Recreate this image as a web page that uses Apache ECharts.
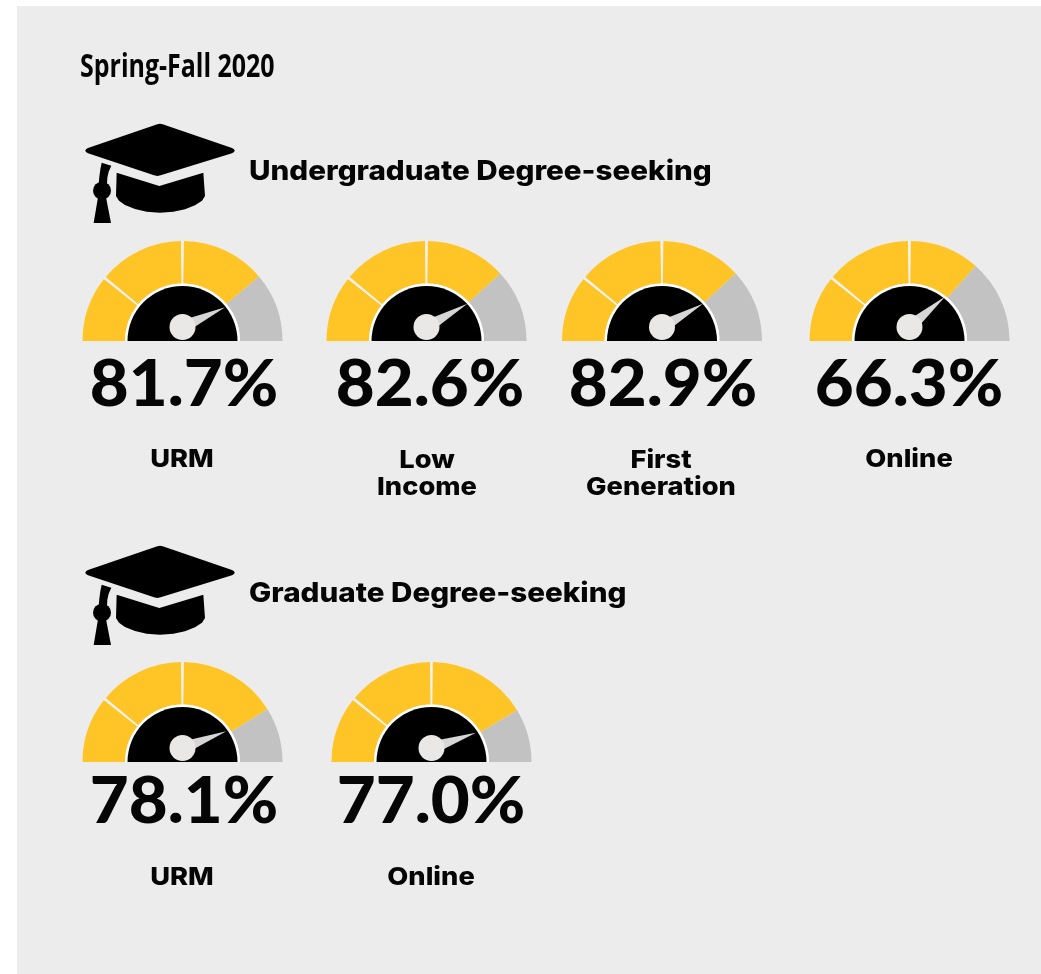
<!DOCTYPE html>
<html>
<head>
<meta charset="utf-8">
<style>html,body{margin:0;padding:0;background:#fff}#c{width:1041px;height:974px}</style>
<script src="https://cdn.jsdelivr.net/npm/echarts@6/dist/echarts.min.js"></script>
</head>
<body>
<div id="c"></div>
<script>
const chartTitle = 'Spring-Fall 2020';
const groupTitles = ['Undergraduate Degree-seeking', 'Graduate Degree-seeking'];
const gaugeValueLabels = ['81.7%', '82.6%', '82.9%', '66.3%', '78.1%', '77.0%'];
const gaugeNames = [['URM'], ['Low', 'Income'], ['First', 'Generation'], ['Online'], ['URM'], ['Online']];
// share of the half-dial drawn yellow
const gaugeFill = [77.7, 76.4, 76.4, 73.0, 82.3, 82.7];
// needle direction, degrees clockwise from pointing left
const needleAngle = [155, 150.5, 150.5, 139.5, 159, 161];
// yellow band boundaries on the dial
const bandStops = [21.7, 50];

const dialX = [182.5, 426.5, 662, 909.5, 182.5, 431.5];
const dialY = [341, 341, 341, 341, 762, 762];
const valueX = [184, 430, 663, 909, 184, 431];
const valueY = [385, 385, 385, 385, 802, 802];
const nameX = [182, 427, 661, 909, 182, 431];
const nameY = [459, 460, 460, 459, 877, 877];

const YELLOW = '#ffc425', GREY = '#c2c2c2', GAP = '#f4f2ea', HEAVY = 'Inter';
const series = [];
const half = {type: 'pie', startAngle: 180, endAngle: 0, clockwise: true, silent: true, animation: false,
  label: {show: false}, labelLine: {show: false}, emphasis: {disabled: true}};

gaugeFill.forEach((fill, i) => {
  const center = [dialX[i], dialY[i]];
  const g = 0.9;
  series.push(Object.assign({}, half, {center, radius: [57.5, 100], z: 2, data: [
    {value: bandStops[0] - g / 2, itemStyle: {color: YELLOW}},
    {value: g, itemStyle: {color: GAP}},
    {value: bandStops[1] - bandStops[0] - g, itemStyle: {color: YELLOW}},
    {value: g, itemStyle: {color: GAP}},
    {value: fill - bandStops[1] - g / 2, itemStyle: {color: YELLOW}},
    {value: 100 - fill, itemStyle: {color: GREY}}
  ]}));
  series.push(Object.assign({}, half, {center, radius: [0, 57.5], z: 3,
    data: [{value: 1, itemStyle: {color: '#ffffff'}}]}));
  series.push(Object.assign({}, half, {center, radius: [0, 55], z: 4,
    data: [{value: 1, itemStyle: {color: '#000000'}}]}));
  series.push({
    type: 'gauge', center: [dialX[i], dialY[i] - 14], radius: 47, z: 5, silent: true, animation: false,
    startAngle: 180, endAngle: 0, min: 0, max: 180,
    axisLine: {show: false}, axisTick: {show: false}, splitLine: {show: false}, axisLabel: {show: false},
    progress: {show: false}, title: {show: false}, detail: {show: false},
    pointer: {show: true, icon: 'triangle', length: '100%', width: 13, itemStyle: {color: '#d6d6d6'}},
    anchor: {show: true, showAbove: true, size: 26, itemStyle: {color: '#e9e8e6', borderWidth: 0}},
    data: [{value: needleAngle[i]}]
  });
});

// mortarboard outline, in the 3x units of the hat's own box
const hatBoard = [[262,43],[270,41],[278,43],[486,114],[492,118],[494,122],[492,126],[486,130],[272,196],[262,198],[252,196],[54,130],[48,126],[46,122],[48,118],[54,114]];
const hatCap = [[140,188],[268,228],[400,188],[405,258],[396,272],[375,286],[345,298],[310,305],[270,308],[230,305],[195,297],[165,285],[147,272],[138,258]];
const hatCord = [[95,158],[124,167],[116,185],[112,203],[111,222],[86,222],[88,200],[91,178]];
const hatTassel = [[84,262],[108,262],[123,339],[71,339]];

const graphic = [{type: 'rect', z: 0, shape: {x: 17, y: 6, width: 1024, height: 968}, style: {fill: '#ececec'}, silent: true}];
const text = (t, x, y, size, weight, align, family, extra) => Object.assign({
  type: 'text', x, y, z: 10, silent: true,
  style: {text: t, fontFamily: family || HEAVY, fontSize: size, fontWeight: weight, fill: '#050505', align: align || 'center', verticalAlign: 'middle'}
}, extra || {});

graphic.push(text(chartTitle, 80, 68, 32, 700, 'left', 'Open Sans', {scaleX: 0.78}));
[[70, 110, 172], [70, 532, 594]].forEach((r, k) => {
  const hat = {x: r[0], y: r[1], scaleX: 1 / 3, scaleY: 1 / 3, z: 10, silent: true, style: {fill: '#000'}};
  [hatBoard, hatCap, hatCord, hatTassel].forEach(points =>
    graphic.push(Object.assign({type: 'polygon', shape: {points}}, hat)));
  graphic.push(Object.assign({type: 'circle', shape: {cx: 96, cy: 242, r: 27}}, hat));
  graphic.push(text(groupTitles[k], 249, r[2], 27.5, 800, 'left', 'Inter', {scaleX: 1.077}));
});
gaugeValueLabels.forEach((v, i) => {
  graphic.push(text(v, valueX[i], valueY[i], 64, 900, 'center', 'Lato', {scaleX: 1.05}));
  gaugeNames[i].forEach((line, j) => graphic.push(text(line, nameX[i], nameY[i] + j * 27, 25, 800, 'center', 'Inter', {scaleX: 1.09})));
});

const chart = echarts.init(document.getElementById('c'), null, {renderer: 'canvas'});
chart.setOption({animation: false, backgroundColor: '#ffffff', series, graphic});
</script>
</body>
</html>
